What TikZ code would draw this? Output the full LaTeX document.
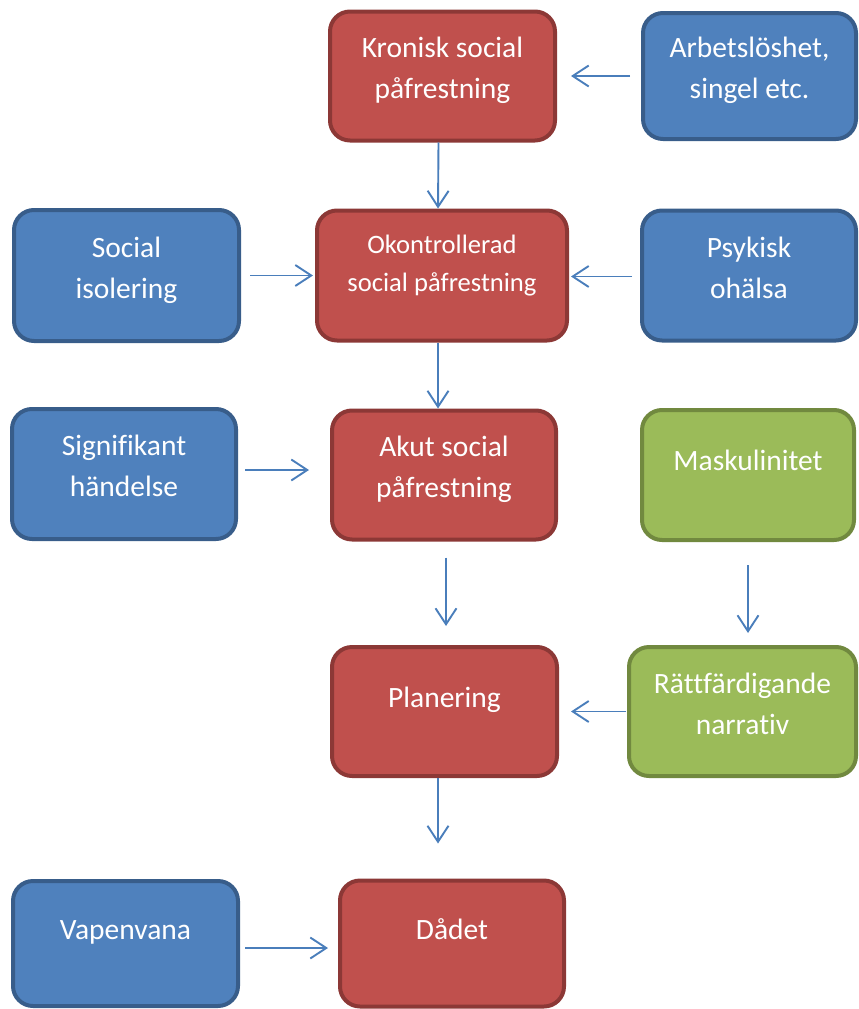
\documentclass[tikz,border=0pt]{standalone}
\usepackage{fontspec}
\setmainfont{Carlito}[Ligatures=NoCommon]
\usetikzlibrary{arrows.meta,calc}
\definecolor{rfill}{HTML}{C0504D}
\definecolor{rdraw}{HTML}{8C3836}
\definecolor{bfill}{HTML}{4F81BD}
\definecolor{bdraw}{HTML}{385D8A}
\definecolor{gfill}{HTML}{9BBB59}
\definecolor{gdraw}{HTML}{71893F}
\definecolor{arrc}{HTML}{4A7EBB}
\tikzset{
  box/.style={rectangle, rounded corners=20pt, line width=4pt, text=white,
    align=center, font=\fontsize{29.5pt}{41pt}\selectfont,
    minimum width=224pt, minimum height=128pt, inner sep=0pt},
  twoline/.style={text height=62pt, text depth=17pt},
  oneline/.style={text height=21pt, text depth=30pt},
  redbox/.style={box, fill=rfill, draw=rdraw},
  bluebox/.style={box, fill=bfill, draw=bdraw},
  greenbox/.style={box, fill=gfill, draw=gdraw},
  arr/.style={draw=arrc, line width=1.9pt, -{Straight Barb[length=16pt,width=21pt]}}
}
\begin{document}
\begin{tikzpicture}[x=1pt,y=-1pt]
\useasboundingbox (0,0) rectangle (859,1009);
% nodes
\node[redbox,twoline,minimum width=225pt,minimum height=129pt] (kron) at (442.5,76) {Kronisk social\\påfrestning};
\node[bluebox,twoline,minimum width=213pt,minimum height=126pt] (arb) at (749.5,76) {Arbetslöshet,\\singel etc.};
\node[redbox,text height=59pt,text depth=27pt,minimum width=250pt,minimum height=130pt,font=\fontsize{26.6pt}{38pt}\selectfont] (okon) at (442,275.5) {Okontrollerad\\social påfrestning};
\node[bluebox,twoline,minimum width=225pt,minimum height=131pt] (soc) at (126.5,275.5) {Social\\isolering};
\node[bluebox,twoline,minimum width=214pt,minimum height=130pt] (psyk) at (749,275.5) {Psykisk\\ohälsa};
\node[bluebox,twoline,minimum width=224pt,minimum height=130pt] (sig) at (124,474) {Signifikant\\händelse};
\node[redbox,twoline,minimum width=224pt,minimum height=129pt] (akut) at (444,475) {Akut social\\påfrestning};
\node[greenbox,oneline,minimum width=212pt,minimum height=130pt] (mask) at (748,475) {Maskulinitet};
\node[redbox,oneline,minimum width=225pt,minimum height=129pt] (plan) at (444.5,711.5) {Planering};
\node[greenbox,twoline,minimum width=227pt,minimum height=129pt] (ratt) at (742.5,711.5) {Rättfärdigande\\narrativ};
\node[bluebox,oneline,minimum width=225pt,minimum height=125pt] (vap) at (125.5,943.5) {Vapenvana};
\node[redbox,oneline,minimum width=224pt,minimum height=126pt] (dad) at (452,943.5) {Dådet};
% connectors
\draw[arr] ($(arb.west)+(-11,0)$) -- ($(kron.east)+(14,0)$);
\draw[arr] ($(kron.south)+(-4,0)$) -- ($(okon.north)+(-4,0)$);
\draw[arr] ($(soc.east)+(9,0)$) -- ($(okon.west)+(-2,0)$);
\draw[arr] ($(psyk.west)+(-8,1)$) -- ($(okon.east)+(2,1)$);
\draw[arr] ($(okon.south)+(-4,0)$) -- ($(akut.north)+(-6,0)$);
\draw[arr] ($(sig.east)+(7,-4)$) -- ($(akut.west)+(-21,-5)$);
\draw[arr] ($(akut.south)+(2,16)$) -- ($(plan.north)+(1.5,-19)$);
\draw[arr] ($(mask.south)+(0,23)$) -- ($(ratt.north)+(5.5,-12)$);
\draw[arr] ($(ratt.west)+(-1,0)$) -- ($(plan.east)+(12,0)$);
\draw[arr] ($(plan.south)+(-6.5,0)$) -- ($(dad.north)+(-14,-35)$);
\draw[arr] ($(vap.east)+(5,4.5)$) -- ($(dad.west)+(-10,4.5)$);
\end{tikzpicture}
\end{document}
